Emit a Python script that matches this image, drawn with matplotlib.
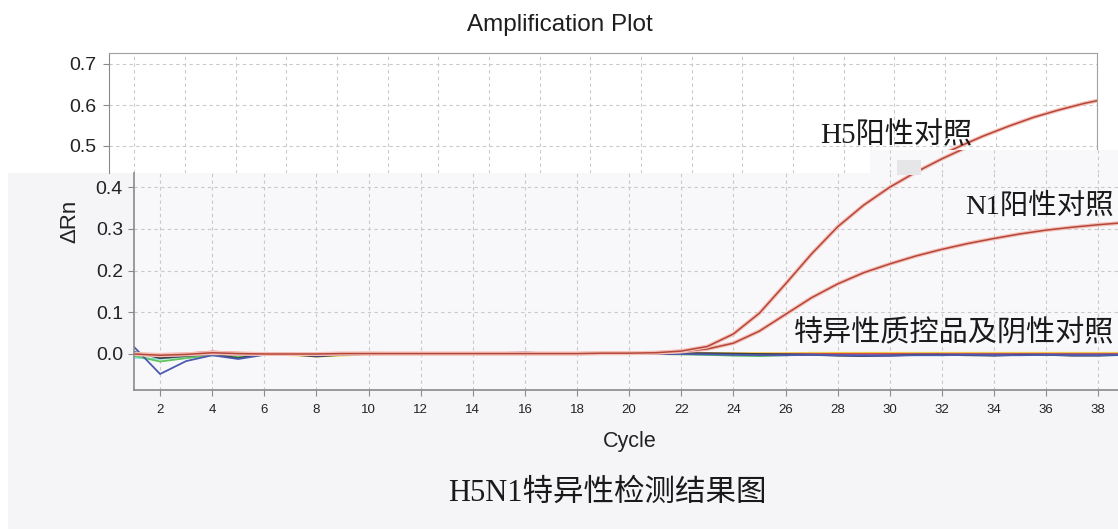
"""
H5N1 特异性检测扩增曲线图（拼接截图样式）。
"""

import matplotlib
matplotlib.use("Agg")
import matplotlib.pyplot as plt
from matplotlib.patches import Rectangle

plt.rcParams["font.family"] = ["Liberation Sans", "DejaVu Sans"]

# ---- data ----
cycles = list(range(1, 41))

h5_pos = [0.000, -0.003, -0.001, 0.003, 0.001, 0.000, 0.000, 0.000, 0.001, 0.001,
          0.001, 0.001, 0.001, 0.001, 0.001, 0.001, 0.001, 0.001, 0.002, 0.002,
          0.003, 0.007, 0.018, 0.048, 0.098, 0.168, 0.240, 0.305, 0.357, 0.400,
          0.436, 0.468, 0.497, 0.524, 0.548, 0.570, 0.588, 0.604, 0.617, 0.628]
n1_pos = [0.000, -0.002, 0.000, 0.002, 0.001, 0.000, 0.000, 0.000, 0.001, 0.001,
          0.001, 0.001, 0.001, 0.001, 0.001, 0.001, 0.001, 0.001, 0.002, 0.002,
          0.003, 0.006, 0.012, 0.026, 0.055, 0.095, 0.135, 0.168, 0.195, 0.216,
          0.235, 0.251, 0.265, 0.277, 0.288, 0.297, 0.304, 0.310, 0.315, 0.318]

neg_blue = [0.017, -0.048, -0.017, -0.003, -0.012, -0.002, 0.000, -0.004, -0.001, 0.000,
            0.000, 0.001, 0.000, 0.000, 0.001, 0.002, 0.001, 0.000, 0.000, 0.001,
            0.001, 0.000, -0.001, -0.002, -0.003, -0.003, -0.002, -0.003, -0.004, -0.004,
            -0.003, -0.003, -0.002, -0.003, -0.003, -0.002, -0.003, -0.003, -0.002, -0.002]
neg_green = [-0.004, -0.018, -0.010, -0.003, -0.007, 0.003, 0.000, -0.002, 0.000, 0.000,
             0.000, 0.000, 0.001, 0.000, 0.000, 0.000, 0.000, 0.001, 0.000, 0.000,
             0.000, -0.001, -0.002, -0.004, -0.005, -0.003, -0.001, 0.000, -0.001, -0.001,
             0.000, 0.000, 0.000, -0.001, 0.000, 0.000, 0.000, -0.001, -0.001, -0.001]
neg_cyan = [-0.009, -0.012, -0.006, -0.002, -0.003, 0.000, 0.000, -0.001, 0.000, 0.000,
            0.000, 0.000, 0.000, 0.000, 0.000, 0.000, 0.000, 0.000, 0.000, 0.000,
            0.000, 0.000, -0.001, -0.001, -0.002, -0.001, -0.001, -0.001, -0.002, -0.002,
            -0.001, -0.001, -0.001, -0.002, -0.002, -0.002, -0.002, -0.003, -0.003, -0.003]
neg_yellow = [-0.002, -0.007, -0.003, -0.001, -0.002, -0.001, -0.003, -0.006, -0.004, -0.001,
              0.001, 0.001, 0.001, 0.002, 0.002, 0.002, 0.002, 0.002, 0.002, 0.002,
              0.002, 0.002, 0.002, 0.002, 0.002, 0.002, 0.003, 0.003, 0.003, 0.003,
              0.003, 0.003, 0.003, 0.003, 0.003, 0.003, 0.003, 0.003, 0.003, 0.003]
neg_orange = [0.000, -0.003, -0.001, 0.002, 0.001, 0.000, 0.000, -0.001, 0.002, 0.003,
              0.002, 0.002, 0.001, 0.001, 0.001, 0.001, 0.001, 0.001, 0.001, 0.001,
              0.002, 0.002, 0.001, 0.001, 0.001, 0.001, 0.001, 0.001, 0.001, 0.001,
              0.001, 0.001, 0.001, 0.001, 0.001, 0.001, 0.001, 0.001, 0.001, 0.001]
neg_red = [0.000, -0.002, 0.001, 0.006, 0.003, 0.000, 0.000, -0.001, 0.001, 0.001,
           0.001, 0.000, 0.000, 0.000, 0.000, 0.000, 0.000, 0.000, 0.000, 0.001,
           0.002, 0.001, 0.000, 0.000, 0.000, 0.000, 0.000, 0.000, 0.000, 0.000,
           0.000, 0.000, 0.000, 0.000, 0.000, 0.000, 0.000, 0.000, 0.000, 0.000]
neg_dark = [0.005, -0.010, -0.005, 0.000, -0.010, 0.001, -0.001, -0.006, -0.002, 0.000,
            0.000, 0.000, 0.000, 0.000, 0.000, 0.001, 0.000, 0.000, 0.000, 0.000,
            0.000, 0.002, 0.002, 0.001, 0.000, -0.001, -0.002, -0.004, -0.005, -0.004,
            -0.002, -0.002, -0.003, -0.004, -0.002, -0.002, -0.004, -0.004, -0.002, -0.002]
neg_purple = [0.003, -0.006, -0.003, 0.000, -0.002, 0.000, 0.000, 0.000, 0.000, 0.000,
              0.000, 0.000, 0.000, 0.000, 0.002, 0.004, 0.001, 0.000, 0.000, 0.000,
              0.000, 0.000, 0.000, -0.001, -0.001, -0.001, -0.001, -0.002, -0.002, -0.002,
              -0.001, -0.001, -0.001, -0.001, -0.001, -0.001, -0.001, -0.001, -0.001, -0.001]

x_ticks = list(range(2, 40, 2))
y_ticks_low = [0.0, 0.1, 0.2, 0.3, 0.4]
y_ticks_high = [0.5, 0.6, 0.7]

title_text = "Amplification Plot"
y_label = "ΔRn"
x_label = "Cycle"
caption = "H5N1特异性检测结果图"
label_h5 = "H5阳性对照"
label_n1 = "N1阳性对照"
label_neg = "特异性质控品及阴性对照"

# ---- layout (pixels, y from top) ----
W, H = 1118, 529
DPI = 100
PANEL = "#f5f5f8"
GRID = "#c9c9c9"
SPINE = "#8a8a8a"
CJK_SERIF = ["Liberation Serif", "Noto Sans CJK SC"]

# lower screenshot: cycle 1 at x=134, 26.06 px per cycle; 0 at y=354, 417 px per unit
BX0, BXS = 134, 26.06
BY0, BYS = 354, 417


def cx(px):
    return 1 + (px - BX0) / BXS


def vy(px):
    return (BY0 - px) / BYS


def tv(px):
    # upper screenshot: 0.5 at y=146, 410 px per unit
    return 0.5 + (146 - px) / 410


fig = plt.figure(figsize=(W / DPI, H / DPI), dpi=DPI, facecolor="white")


def add_px_axes(x0, y0, x1, y1, **kw):
    return fig.add_axes([x0 / W, 1 - y1 / H, (x1 - x0) / W, (y1 - y0) / H], **kw)


def draw_curves(ax):
    negs = [(neg_cyan, "#86dfe8"), (neg_yellow, "#efdf5c"), (neg_green, "#5cc55c"),
            (neg_orange, "#f3a02c"), (neg_red, "#d8473b"), (neg_purple, "#8e5aa8"),
            (neg_dark, "#404040"), (neg_blue, "#4a5bb0")]
    for vals, col in negs:
        ax.plot(cycles, vals, color=col, lw=1.3)
    for vals in (n1_pos, h5_pos):
        ax.plot(cycles, vals, color="#f4c0b8", lw=2.8, solid_capstyle="round")
        ax.plot(cycles, vals, color="#b5463a", lw=1.1)


fig.add_artist(Rectangle((8 / W, 0), (W - 8) / W, (H - 173) / H, transform=fig.transFigure,
                         facecolor=PANEL, edgecolor="none", zorder=-1))

# upper (partly hidden) plot
ax_top = add_px_axes(109, 53, 1097, 173, zorder=1)
ax_top.set_facecolor("white")
draw_curves(ax_top)
ax_top.set_xlim(-0.5, 38.5)
ax_top.set_ylim(tv(173), tv(53))
ax_top.set_xticks([t - 1.5 for t in x_ticks] + [x_ticks[-1] + 0.5])
ax_top.set_yticks(y_ticks_high, labels=[f"{v:.1f}" for v in y_ticks_high])
ax_top.tick_params(axis="x", length=0, labelbottom=False)
ax_top.tick_params(axis="y", length=4, color=SPINE, labelsize=14, pad=5, labelcolor="#222222")
ax_top.spines["bottom"].set_visible(False)
for s in ("left", "top", "right"):
    ax_top.spines[s].set_color("#a0a0a0")
ax_top.spines["left"].set_color(SPINE)
ax_top.grid(True, ls=(0, (3, 3)), color=GRID, lw=0.8)

# lower plot
ax = add_px_axes(BX0, 173, W, 390, zorder=2)
ax.set_facecolor("#f8f8fa")
draw_curves(ax)
ax.set_xlim(1, cx(W))
ax.set_ylim(vy(390), vy(173))
ax.set_xticks(x_ticks, labels=[str(t) for t in x_ticks], fontsize=9.5,
              fontfamily=["Liberation Sans Narrow", "Liberation Sans"])
ax.set_yticks(y_ticks_low, labels=[f"{v:.1f}" for v in y_ticks_low])
ax.tick_params(axis="x", length=4, color=SPINE, pad=6, labelcolor="#222222")
ax.tick_params(axis="y", length=4, color=SPINE, labelsize=14, pad=4, labelcolor="#222222")
ax.spines["top"].set_visible(False)
ax.spines["right"].set_visible(False)
for s in ("left", "bottom"):
    ax.spines[s].set_color(SPINE)
    ax.spines[s].set_linewidth(1.2)
ax.grid(True, ls=(0, (3, 3)), color=GRID, lw=0.8)

# step of the lower screenshot that shows above the upper plot on the right
ax_step = add_px_axes(870, 150, W, 173, zorder=3)
ax_step.set_facecolor("#f8f8fa")
draw_curves(ax_step)
ax_step.set_xlim(cx(870), cx(W))
ax_step.set_ylim(vy(173), vy(150))
ax_step.set_xticks([t for t in x_ticks if t > cx(870)])
ax_step.set_yticks([])
ax_step.tick_params(length=0, labelbottom=False)
for s in ax_step.spines.values():
    s.set_visible(False)
ax_step.grid(True, axis="x", ls=(0, (3, 3)), color=GRID, lw=0.8)

fig.add_artist(Rectangle((897 / W, 1 - 175 / H), 24 / W, 15 / H, transform=fig.transFigure,
                         facecolor="#e6e6e8", edgecolor="none", zorder=4))

# texts
fig.text(560 / W, 1 - 25 / H, title_text, ha="center", va="center", fontsize=17.5, color="#1e1e1e")
fig.text(70 / W, 1 - 221 / H, y_label, ha="center", va="center", rotation=90, fontsize=16,
         color="#222222")
fig.text(630 / W, 1 - 441 / H, x_label, ha="center", va="center", fontsize=15.5, color="#222222")
fig.text(607 / W, 1 - 493 / H, caption, ha="center", va="center", fontsize=22,
         family=CJK_SERIF, color="#1a1a1a", zorder=10)
fig.text(820 / W, 1 - 135 / H, label_h5, ha="left", va="center", fontsize=21,
         family=CJK_SERIF, color="#1a1a1a", zorder=10)
fig.text(1114 / W, 1 - 207 / H, label_n1, ha="right", va="center", fontsize=20.5,
         family=CJK_SERIF, color="#1a1a1a", zorder=10)
fig.text(1114 / W, 1 - 333 / H, label_neg, ha="right", va="center", fontsize=21,
         family=CJK_SERIF, color="#1a1a1a", zorder=10)

fig.savefig("out.png", dpi=DPI, facecolor="white")
plt.close(fig)
